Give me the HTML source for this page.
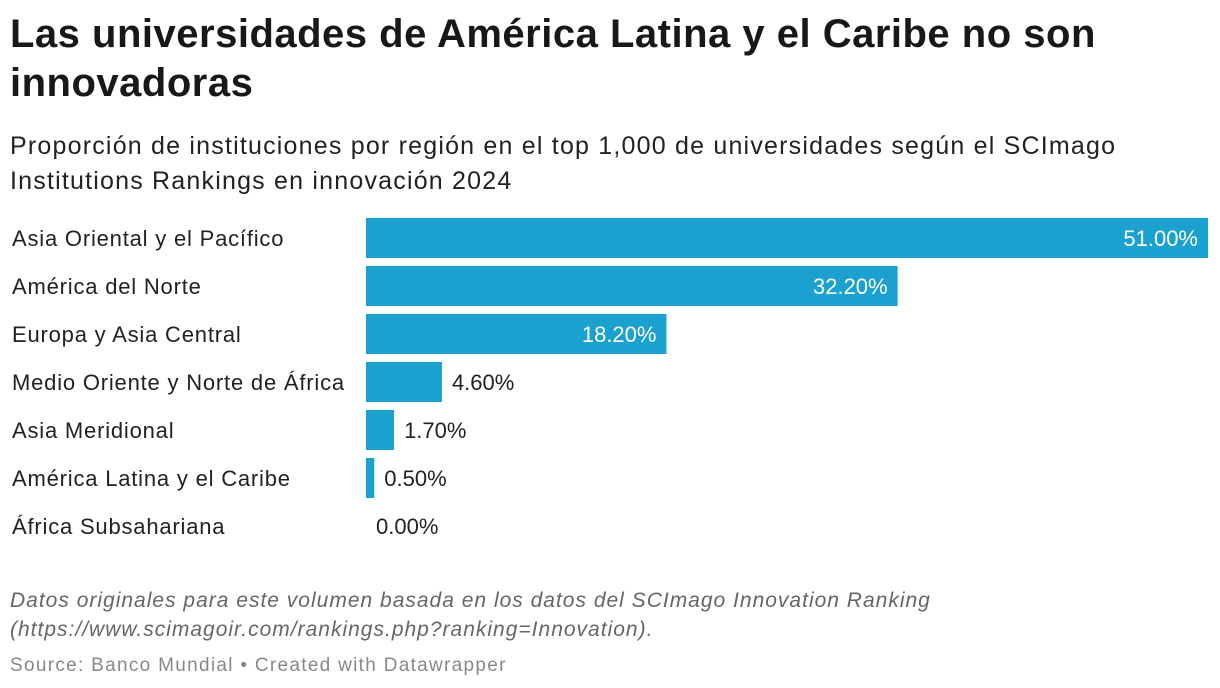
<!DOCTYPE html>
<html><head><meta charset="utf-8">
<style>
body{margin:0;width:1220px;height:688px;background:#fff;font-family:"Liberation Sans",Arial,sans-serif;overflow:hidden;position:relative}
.t{position:absolute;left:10px;top:10px;font-size:40px;font-weight:bold;line-height:49px;color:#181818;width:1200px;letter-spacing:0.5px}
.s{position:absolute;left:10px;top:129px;font-size:25px;line-height:35px;color:#222;width:1140px;letter-spacing:1.2px}
.n{position:absolute;left:10px;top:586px;font-size:21px;line-height:29px;color:#666;font-style:italic;letter-spacing:1px}
.src{position:absolute;left:10px;top:655px;font-size:19px;color:#888;letter-spacing:1.3px}
</style></head><body>
<div class="t">Las universidades de América Latina y el Caribe no son innovadoras</div>
<div class="s">Proporción de instituciones por región en el top 1,000 de universidades según el SCImago Institutions Rankings en innovación 2024</div>
<svg id="c" width="1220" height="560" style="position:absolute;left:0;top:0"></svg>
<div class="n">Datos originales para este volumen basada en los datos del SCImago Innovation Ranking<br>(https://www.scimagoir.com/rankings.php?ranking=Innovation).</div>
<div class="src">Source: Banco Mundial • Created with Datawrapper</div>
<script>
const categories=["Asia Oriental y el Pacífico","América del Norte","Europa y Asia Central","Medio Oriente y Norte de África","Asia Meridional","América Latina y el Caribe","África Subsahariana"];
const values=[51.0,32.2,18.2,4.6,1.7,0.5,0.0];
const labels=["51.00%","32.20%","18.20%","4.60%","1.70%","0.50%","0.00%"];
const svg=document.getElementById('c');const NS="http://www.w3.org/2000/svg";
const x0=366,xMax=51,w=842;const x=v=>v/xMax*w;const y=i=>218+i*48;
categories.forEach((c,i)=>{
 const t=document.createElementNS(NS,'text');t.setAttribute('x',12);t.setAttribute('y',y(i)+28);
 t.setAttribute('font-size','22');t.setAttribute('letter-spacing','0.8');t.setAttribute('fill','#222');t.textContent=c;
 
 
 svg.appendChild(t);
 const r=document.createElementNS(NS,'rect');r.setAttribute('x',x0);r.setAttribute('y',y(i));
 r.setAttribute('width',x(values[i]));r.setAttribute('height',40);r.setAttribute('fill','#1aa1cf');
 
 
 svg.appendChild(r);
 const v=document.createElementNS(NS,'text');const inside=x(values[i])>120;
 v.setAttribute('x',inside?x0+x(values[i])-10:x0+x(values[i])+10);v.setAttribute('y',y(i)+28);
 v.setAttribute('text-anchor',inside?'end':'start');v.setAttribute('font-size','22');
 v.setAttribute('fill',inside?'#fff':'#222');v.textContent=labels[i];
 
 
 svg.appendChild(v);
});
</script>
</body></html>
